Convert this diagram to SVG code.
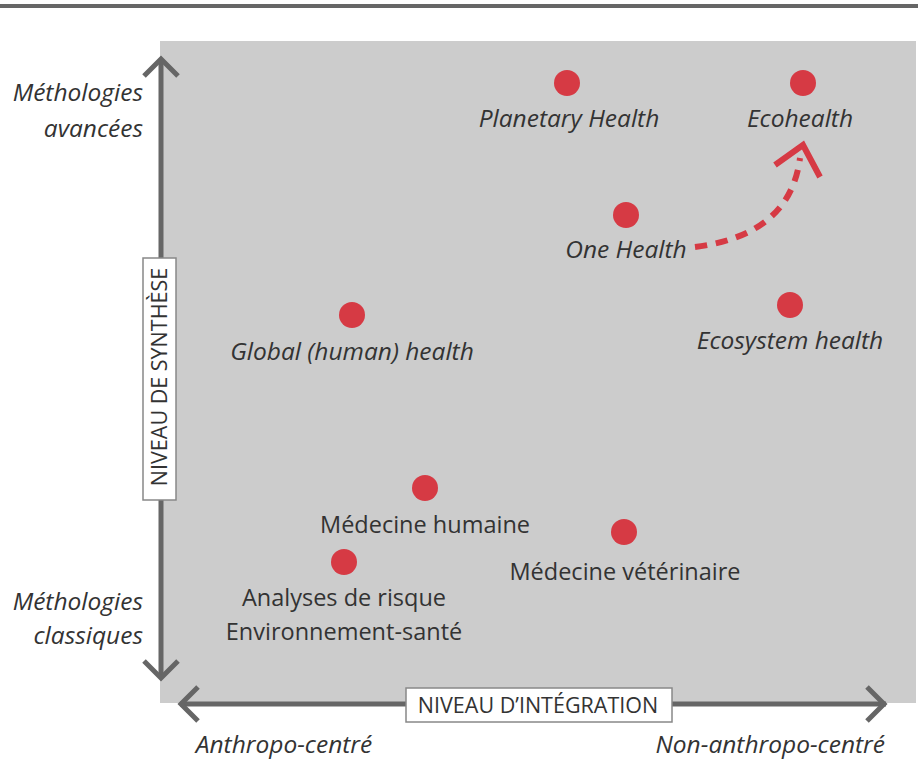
<svg xmlns="http://www.w3.org/2000/svg" width="922" height="764" viewBox="0 0 922 764">
<defs>
<style>
.t{font-family:"Open Sans","Noto Sans","DejaVu Sans",sans-serif;font-size:23.5px;fill:#333;}
.i{font-style:italic;font-size:24.5px;}
.ax{stroke:#666;stroke-width:5;fill:none;stroke-linecap:butt;stroke-linejoin:miter;}
.dot{fill:#d63a44;}
.lbl{font-family:"Open Sans","Noto Sans","DejaVu Sans",sans-serif;font-size:21.5px;fill:#333;}
</style>
</defs>
<rect width="922" height="764" fill="#ffffff"/>
<line x1="0" y1="6" x2="918" y2="6" stroke="#666" stroke-width="4"/>
<rect x="160" y="41" width="756" height="662" fill="#cccccc"/>
<g id="axes">
<line class="ax" x1="161" y1="59" x2="161" y2="677"/>
<polyline class="ax" points="144,76 161,59 178,76"/>
<polyline class="ax" points="144,661 161,678 178,661"/>
<line class="ax" x1="180" y1="704" x2="886" y2="704"/>
<polyline class="ax" points="198,687 181,704 198,721"/>
<polyline class="ax" points="867,687 884,704 867,721"/>
<rect x="406" y="688" width="266" height="34" fill="#fff" stroke="#888" stroke-width="1.5"/>
<text class="lbl" x="538" y="713" text-anchor="middle">NIVEAU D’INTÉGRATION</text>
<rect x="143" y="258" width="33" height="242" fill="#fff" stroke="#888" stroke-width="1.5"/>
<text class="lbl" transform="translate(167,377) rotate(-90)" text-anchor="middle">NIVEAU DE SYNTHÈSE</text>
</g>
<g id="axis-labels">
<text class="t i" x="143" y="101" text-anchor="end">Méthologies</text>
<text class="t i" x="143" y="137" text-anchor="end">avancées</text>
<text class="t i" x="143" y="610" text-anchor="end">Méthologies</text>
<text class="t i" x="143" y="644" text-anchor="end">classiques</text>
<text class="t i" x="284" y="753" text-anchor="middle">Anthropo-centré</text>
<text class="t i" x="885" y="753" text-anchor="end">Non-anthropo-centré</text>
</g>
<g id="connectors">
<path d="M695,247 Q790,235 800,158" fill="none" stroke="#d63a44" stroke-width="6" stroke-dasharray="12,9"/>
<polyline points="775,165 803,145 820,177" fill="none" stroke="#d63a44" stroke-width="6"/>
</g>
<g id="planetary"><circle class="dot" cx="567" cy="83" r="13"/><text class="t i" x="569" y="127" text-anchor="middle">Planetary Health</text></g>
<g id="ecohealth"><circle class="dot" cx="803" cy="83" r="13"/><text class="t i" x="800" y="127" text-anchor="middle">Ecohealth</text></g>
<g id="onehealth"><circle class="dot" cx="626" cy="215" r="13"/><text class="t i" x="626" y="258" text-anchor="middle">One Health</text></g>
<g id="ecosystem"><circle class="dot" cx="790" cy="305" r="13"/><text class="t i" x="790" y="349" text-anchor="middle">Ecosystem health</text></g>
<g id="global"><circle class="dot" cx="352" cy="315" r="13"/><text class="t i" x="352" y="360" text-anchor="middle">Global (human) health</text></g>
<g id="medhum"><circle class="dot" cx="425" cy="488" r="13"/><text class="t" x="425" y="533" text-anchor="middle">Médecine humaine</text></g>
<g id="analyses"><circle class="dot" cx="344" cy="562" r="13"/><text class="t" x="344" y="606" text-anchor="middle">Analyses de risque</text><text class="t" x="344" y="640" text-anchor="middle">Environnement-santé</text></g>
<g id="medvet"><circle class="dot" cx="624" cy="532" r="13"/><text class="t" x="625" y="580" text-anchor="middle">Médecine vétérinaire</text></g>
</svg>
